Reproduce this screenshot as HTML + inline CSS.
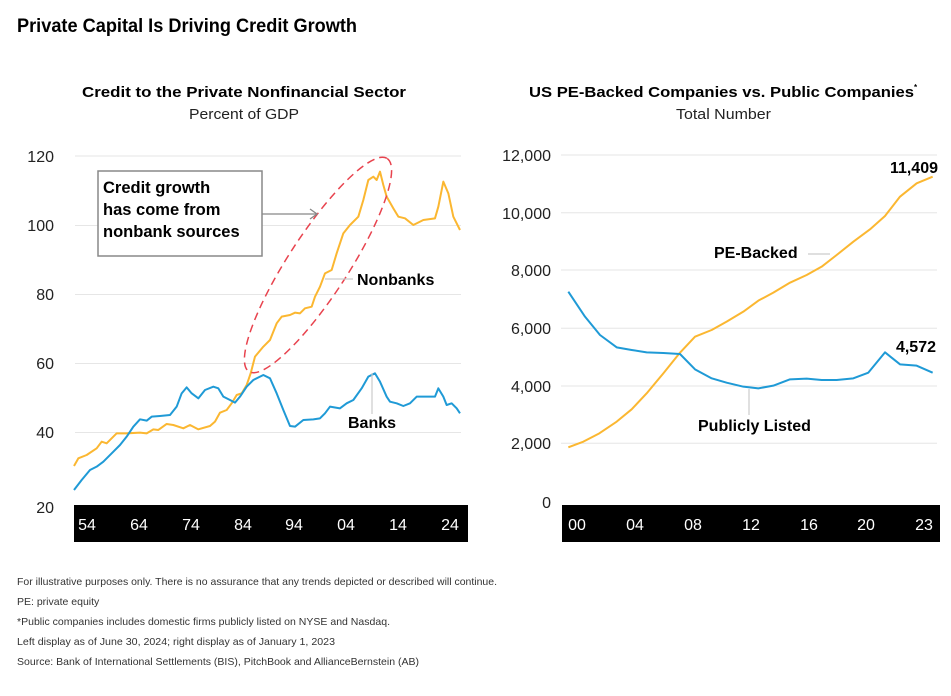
<!DOCTYPE html>
<html><head><meta charset="utf-8"><style>
html,body{margin:0;padding:0;background:#fff;width:951px;height:696px;overflow:hidden}
svg{display:block;font-family:"Liberation Sans",sans-serif}
</style></head><body>
<svg width="951" height="696" viewBox="0 0 951 696" xmlns="http://www.w3.org/2000/svg">
<text x="17" y="32" font-size="19" font-weight="bold" fill="#000" textLength="340" lengthAdjust="spacingAndGlyphs">Private Capital Is Driving Credit Growth</text>

<!-- Left chart -->
<text x="82" y="97" font-size="15" font-weight="bold" textLength="324" lengthAdjust="spacingAndGlyphs">Credit to the Private Nonfinancial Sector</text>
<text x="189" y="119" font-size="15" fill="#222" textLength="110" lengthAdjust="spacingAndGlyphs">Percent of GDP</text>
<g stroke="#e6e6e6" stroke-width="1">
<line x1="75" y1="156" x2="461" y2="156"/><line x1="75" y1="225.5" x2="461" y2="225.5"/><line x1="75" y1="294.5" x2="461" y2="294.5"/><line x1="75" y1="363.5" x2="461" y2="363.5"/><line x1="75" y1="432.5" x2="461" y2="432.5"/>
</g>
<g font-size="16" fill="#222" text-anchor="end">
<text x="54" y="162">120</text><text x="54" y="231">100</text><text x="54" y="300">80</text><text x="54" y="369">60</text><text x="54" y="438">40</text><text x="54" y="513">20</text>
</g>
<rect x="74" y="505" width="394" height="37" fill="#000"/>
<g font-size="16" fill="#fff" text-anchor="middle">
<text x="87" y="530">54</text><text x="139" y="530">64</text><text x="191" y="530">74</text><text x="243" y="530">84</text><text x="294" y="530">94</text><text x="346" y="530">04</text><text x="398" y="530">14</text><text x="450" y="530">24</text>
</g>
<g transform="translate(0,140) scale(0.33333)" fill="none" stroke-width="6" stroke-linejoin="round">
<polyline stroke="#fbb731" points="222,978 235,955 260,945 290,925 305,905 320,910 350,880 380,880 420,878 440,880 460,868 475,870 500,852 520,855 550,865 570,855 595,868 630,858 645,845 660,818 680,810 695,790 710,765 725,760 740,735 752,700 765,650 790,620 810,600 830,550 845,530 870,525 885,518 900,520 915,505 935,500 945,470 960,440 975,400 995,390 1010,340 1030,280 1050,255 1075,230 1090,180 1105,120 1120,110 1130,120 1140,95 1150,135 1160,170 1180,205 1195,230 1215,235 1240,255 1270,240 1305,235 1315,200 1330,125 1345,160 1360,230 1380,270"/>
<polyline stroke="#1f9ad6" points="222,1050 245,1020 270,990 290,980 310,965 340,935 360,915 380,890 400,860 420,838 440,842 455,830 480,828 510,825 530,800 545,760 560,742 575,760 595,775 615,750 640,740 655,745 670,770 690,780 705,788 720,770 740,740 760,720 790,705 810,715 830,760 850,810 870,858 885,860 910,840 940,838 960,835 975,820 990,800 1020,805 1040,790 1060,780 1085,745 1105,710 1125,700 1140,725 1160,770 1170,785 1190,790 1210,798 1230,790 1250,770 1280,770 1305,770 1315,745 1330,770 1340,795 1355,790 1370,805 1380,820"/>
</g>
<ellipse cx="318" cy="265" rx="127" ry="30" transform="rotate(-57 318 265)" fill="none" stroke="#e8434e" stroke-width="1.5" stroke-dasharray="8,5"/>
<rect x="98" y="171" width="164" height="85" fill="#fff" stroke="#888" stroke-width="1.5"/>
<g font-size="16.5" font-weight="bold">
<text x="103" y="193">Credit growth</text><text x="103" y="215">has come from</text><text x="103" y="237">nonbank sources</text>
</g>
<line x1="262" y1="214" x2="317" y2="214" stroke="#888" stroke-width="1.3"/>
<polyline points="310,209 317,214 310,219" fill="none" stroke="#888" stroke-width="1.3"/>
<line x1="325" y1="279" x2="353" y2="279" stroke="#ccc" stroke-width="1.2"/>
<text x="357" y="285" font-size="16" font-weight="bold">Nonbanks</text>
<line x1="372" y1="373" x2="372" y2="414" stroke="#ccc" stroke-width="1.2"/>
<text x="348" y="428" font-size="16" font-weight="bold">Banks</text>

<!-- Right chart -->
<text x="529" y="97" font-size="15" font-weight="bold" textLength="385" lengthAdjust="spacingAndGlyphs">US PE-Backed Companies vs. Public Companies</text>
<text x="914" y="90" font-size="8" font-weight="bold">*</text>
<text x="676" y="119" font-size="15" fill="#222" textLength="95" lengthAdjust="spacingAndGlyphs">Total Number</text>
<g stroke="#e6e6e6" stroke-width="1">
<line x1="561" y1="155" x2="937" y2="155"/><line x1="561" y1="212.7" x2="937" y2="212.7"/><line x1="561" y1="270" x2="937" y2="270"/><line x1="561" y1="328.3" x2="937" y2="328.3"/><line x1="561" y1="386" x2="937" y2="386"/><line x1="561" y1="443.3" x2="937" y2="443.3"/>
</g>
<g font-size="16" fill="#222" text-anchor="end">
<text x="551" y="161">12,000</text><text x="551" y="219">10,000</text><text x="551" y="276">8,000</text><text x="551" y="334">6,000</text><text x="551" y="392">4,000</text><text x="551" y="449">2,000</text><text x="551" y="508">0</text>
</g>
<rect x="562" y="505" width="378" height="37" fill="#000"/>
<g font-size="16" fill="#fff" text-anchor="middle">
<text x="577" y="530">00</text><text x="635" y="530">04</text><text x="693" y="530">08</text><text x="751" y="530">12</text><text x="809" y="530">16</text><text x="866" y="530">20</text><text x="924" y="530">23</text>
</g>
<g transform="translate(480,140) scale(0.33333)" fill="none" stroke-width="6" stroke-linejoin="round">
<polyline stroke="#fbb731" points="265,922 310,905 358,880 410,845 455,808 500,760 550,700 600,638 645,590 695,570 740,545 790,515 835,482 880,458 930,428 980,405 1025,380 1070,345 1120,305 1170,268 1215,228 1260,170 1310,130 1358,110"/>
<polyline stroke="#1f9ad6" points="265,455 315,530 360,585 410,622 455,630 500,637 550,639 600,642 645,688 695,715 740,728 790,740 835,745 880,737 930,718 980,716 1025,720 1070,720 1120,715 1165,698 1215,637 1260,673 1310,677 1358,698"/>
</g>
<line x1="808" y1="254" x2="830" y2="254" stroke="#ccc" stroke-width="1.2"/>
<text x="714" y="258" font-size="16" font-weight="bold">PE-Backed</text>
<line x1="749" y1="389" x2="749" y2="415" stroke="#ccc" stroke-width="1.2"/>
<text x="698" y="431" font-size="16" font-weight="bold">Publicly Listed</text>
<text x="938" y="173" font-size="16" font-weight="bold" text-anchor="end">11,409</text>
<text x="936" y="352" font-size="16" font-weight="bold" text-anchor="end">4,572</text>

<g font-size="10.5" fill="#333">
<text x="17" y="585" textLength="480" lengthAdjust="spacingAndGlyphs">For illustrative purposes only. There is no assurance that any trends depicted or described will continue.</text>
<text x="17" y="605">PE: private equity</text>
<text x="17" y="625" textLength="373" lengthAdjust="spacingAndGlyphs">*Public companies includes domestic firms publicly listed on NYSE and Nasdaq.</text>
<text x="17" y="645" textLength="318" lengthAdjust="spacingAndGlyphs">Left display as of June 30, 2024; right display as of January 1, 2023</text>
<text x="17" y="665" textLength="402" lengthAdjust="spacingAndGlyphs">Source: Bank of International Settlements (BIS), PitchBook and AllianceBernstein (AB)</text>
</g>
</svg>
</body></html>
